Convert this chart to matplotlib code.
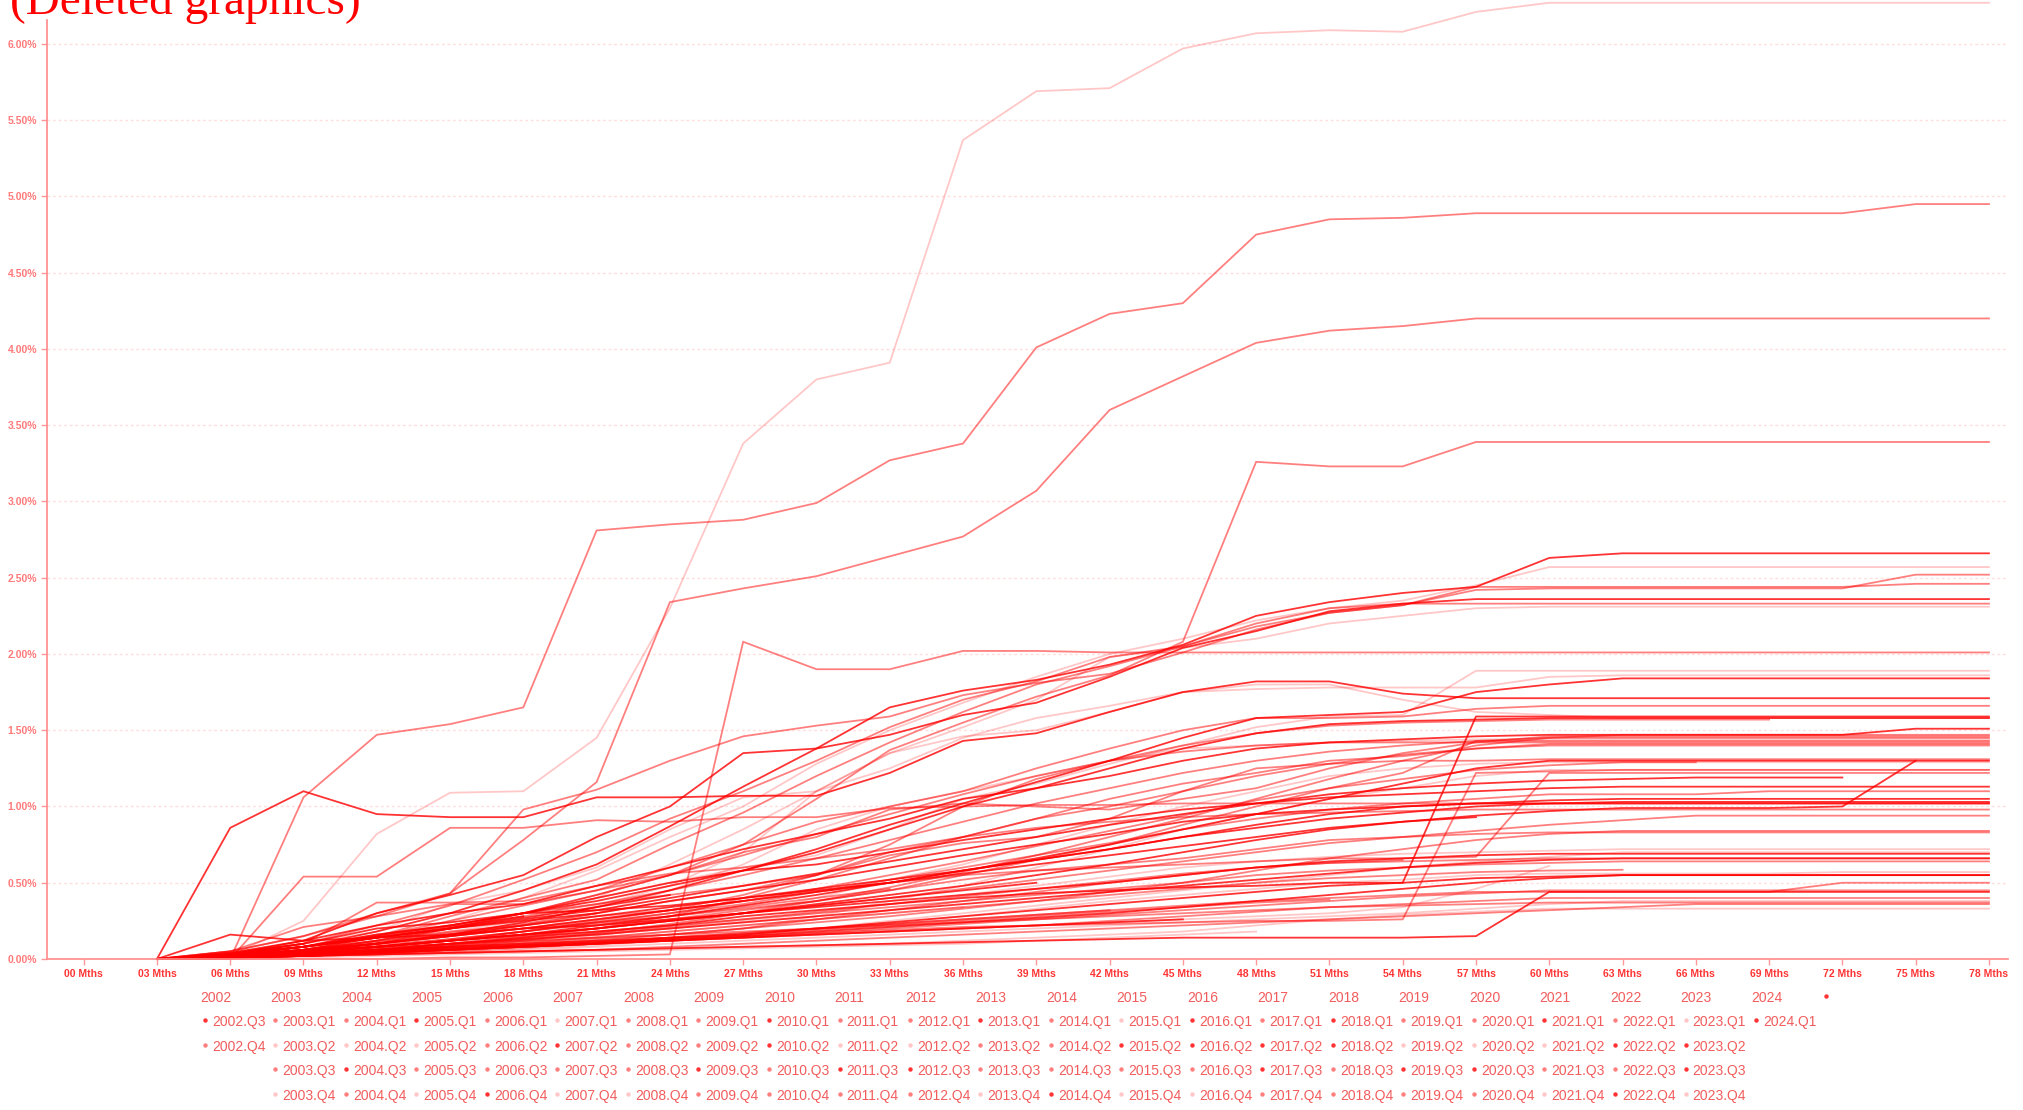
import matplotlib
matplotlib.use("Agg")
import matplotlib.pyplot as plt
from matplotlib import font_manager

# month-on-book categories (x axis)
months = ["00 Mths", "03 Mths", "06 Mths", "09 Mths", "12 Mths", "15 Mths", "18 Mths",
          "21 Mths", "24 Mths", "27 Mths", "30 Mths", "33 Mths", "36 Mths", "39 Mths",
          "42 Mths", "45 Mths", "48 Mths", "51 Mths", "54 Mths", "57 Mths", "60 Mths",
          "63 Mths", "66 Mths", "69 Mths", "72 Mths", "75 Mths", "78 Mths"]

years = [2002, 2003, 2004, 2005, 2006, 2007, 2008, 2009, 2010, 2011, 2012, 2013,
         2014, 2015, 2016, 2017, 2018, 2019, 2020, 2021, 2022, 2023, 2024]

# cumulative loss (%) per vintage, values from 03 Mths onwards
loss_2002 = [
    [0, 0.86, 1.10, 0.95, 0.93, 0.93, 1.06, 1.06, 1.07, 1.07, 1.22, 1.43, 1.48, 1.62, 1.75, 1.82, 1.82, 1.74, 1.71, 1.71, 1.71, 1.71, 1.71, 1.71, 1.71, 1.71],
    [0, 0, 0.54, 0.54, 0.86, 0.86, 0.91, 0.90, 0.93, 0.93, 0.99, 1.00, 1.01, 1.01, 1.02, 1.02, 1.02, 1.02, 1.02, 1.02, 1.02, 1.02, 1.02, 1.02, 1.02, 1.02],
]
loss_2003 = [
    [0, 0.05, 0.21, 0.28, 0.43, 0.98, 1.11, 1.30, 1.46, 1.53, 1.59, 1.73, 1.81, 1.87, 2.01, 2.16, 2.27, 2.32, 2.44, 2.44, 2.44, 2.44, 2.44, 2.44, 2.46, 2.46],
    [0, 0.02, 0.25, 0.82, 1.09, 1.10, 1.45, 2.30, 3.38, 3.80, 3.91, 5.37, 5.69, 5.71, 5.97, 6.07, 6.09, 6.08, 6.21, 6.27, 6.27, 6.27, 6.27, 6.27, 6.27, 6.27],
    [0, 0, 1.06, 1.47, 1.54, 1.65, 2.81, 2.85, 2.88, 2.99, 3.27, 3.38, 4.01, 4.23, 4.30, 4.75, 4.85, 4.86, 4.89, 4.89, 4.89, 4.89, 4.89, 4.89, 4.95, 4.95],
    [0, 0.02, 0.05, 0.12, 0.20, 0.30, 0.40, 0.50, 0.60, 0.68, 0.85, 1.05, 1.15, 1.28, 1.40, 1.52, 1.59, 1.60, 1.89, 1.89, 1.89, 1.89, 1.89, 1.89, 1.89, 1.89],
]
loss_2004 = [
    [0, 0.05, 0.15, 0.30, 0.43, 0.78, 1.16, 2.34, 2.43, 2.51, 2.64, 2.77, 3.07, 3.60, 3.82, 4.04, 4.12, 4.15, 4.20, 4.20, 4.20, 4.20, 4.20, 4.20, 4.20, 4.20],
    [0, 0.03, 0.10, 0.18, 0.36, 0.45, 0.60, 0.85, 1.06, 1.10, 1.35, 1.46, 1.50, 1.62, 1.75, 1.77, 1.78, 1.78, 1.78, 1.85, 1.86, 1.86, 1.86, 1.86, 1.86, 1.86],
    [0, 0.02, 0.08, 0.18, 0.30, 0.45, 0.62, 0.87, 1.13, 1.38, 1.65, 1.76, 1.83, 1.93, 2.06, 2.25, 2.34, 2.40, 2.44, 2.63, 2.66, 2.66, 2.66, 2.66, 2.66, 2.66],
    [0, 0.03, 0.10, 0.22, 0.35, 0.52, 0.70, 0.92, 1.10, 1.30, 1.52, 1.70, 1.82, 1.98, 2.05, 2.18, 2.27, 2.32, 2.42, 2.43, 2.43, 2.43, 2.43, 2.43, 2.52, 2.52],
]
loss_2005 = [
    [0, 0.04, 0.12, 0.30, 0.42, 0.55, 0.80, 1.00, 1.35, 1.38, 1.47, 1.60, 1.68, 1.85, 2.04, 2.15, 2.28, 2.33, 2.36, 2.36, 2.36, 2.36, 2.36, 2.36, 2.36, 2.36],
    [0, 0.01, 0.05, 0.12, 0.25, 0.40, 0.58, 0.80, 1.00, 1.28, 1.50, 1.68, 1.85, 2.00, 2.10, 2.22, 2.30, 2.35, 2.45, 2.57, 2.57, 2.57, 2.57, 2.57, 2.57, 2.57],
    [0, 0.02, 0.06, 0.15, 0.28, 0.40, 0.52, 0.75, 0.96, 1.20, 1.42, 1.62, 1.80, 1.92, 2.05, 2.20, 2.30, 2.33, 2.33, 2.33, 2.33, 2.33, 2.33, 2.33, 2.33, 2.33],
    [0, 0.01, 0.03, 0.08, 0.15, 0.22, 0.35, 0.48, 0.70, 1.10, 1.35, 1.52, 1.70, 1.98, 2.04, 2.10, 2.20, 2.25, 2.30, 2.31, 2.31, 2.31, 2.31, 2.31, 2.31, 2.31],
]
loss_2006 = [
    [0, 0.02, 0.05, 0.10, 0.20, 0.30, 0.42, 0.55, 0.75, 1.05, 1.37, 1.55, 1.72, 1.86, 2.08, 3.26, 3.23, 3.23, 3.39, 3.39, 3.39, 3.39, 3.39, 3.39, 3.39, 3.39],
    [0, 0, 0, 0, 0.01, 0.01, 0.02, 0.03, 2.08, 1.90, 1.90, 2.02, 2.02, 2.01, 2.01, 2.01, 2.01, 2.01, 2.01, 2.01, 2.01, 2.01, 2.01, 2.01, 2.01, 2.01],
    [0, 0.02, 0.08, 0.15, 0.25, 0.35, 0.45, 0.60, 0.75, 0.90, 1.00, 1.10, 1.25, 1.38, 1.50, 1.58, 1.58, 1.59, 1.64, 1.66, 1.66, 1.66, 1.66, 1.66, 1.66, 1.66],
    [0, 0.01, 0.03, 0.06, 0.10, 0.14, 0.18, 0.22, 0.28, 0.32, 0.36, 0.40, 0.43, 0.45, 0.47, 0.48, 0.50, 0.50, 1.59, 1.59, 1.59, 1.59, 1.59, 1.59, 1.59, 1.59],
]
loss_2007 = [
    [0, 0.02, 0.06, 0.10, 0.18, 0.25, 0.40, 0.62, 0.85, 1.10, 1.25, 1.45, 1.58, 1.66, 1.75, 1.80, 1.80, 1.70, 1.62, 1.60, 1.58, 1.58, 1.58, 1.58, 1.58, 1.58],
    [0, 0.03, 0.12, 0.22, 0.30, 0.36, 0.48, 0.60, 0.72, 0.82, 0.92, 1.05, 1.12, 1.20, 1.30, 1.38, 1.42, 1.44, 1.46, 1.47, 1.47, 1.47, 1.47, 1.47, 1.51, 1.51],
    [0, 0.05, 0.15, 0.28, 0.36, 0.36, 0.45, 0.55, 0.70, 0.80, 0.98, 1.02, 1.00, 0.98, 1.05, 1.12, 1.25, 1.35, 1.42, 1.46, 1.46, 1.46, 1.46, 1.46, 1.46, 1.46],
    [0, 0, 0.02, 0.05, 0.10, 0.18, 0.30, 0.45, 0.62, 0.85, 1.00, 1.10, 1.20, 1.30, 1.38, 1.40, 1.42, 1.43, 1.44, 1.44, 1.44, 1.44, 1.44, 1.44, 1.44, 1.44],
]
loss_2008 = [
    [0, 0.02, 0.04, 0.08, 0.12, 0.18, 0.25, 0.32, 0.42, 0.55, 0.75, 1.00, 1.18, 1.30, 1.36, 1.40, 1.42, 1.42, 1.42, 1.42, 1.42, 1.42, 1.42, 1.42, 1.42, 1.42],
    [0, 0.01, 0.03, 0.06, 0.09, 0.14, 0.20, 0.28, 0.40, 0.52, 0.66, 0.80, 0.92, 1.05, 1.15, 1.22, 1.30, 1.33, 1.38, 1.40, 1.40, 1.40, 1.40, 1.40, 1.40, 1.40],
    [0, 0.02, 0.05, 0.10, 0.15, 0.22, 0.30, 0.38, 0.45, 0.55, 0.68, 0.76, 0.80, 0.92, 1.10, 1.25, 1.28, 1.30, 1.30, 1.31, 1.31, 1.31, 1.31, 1.31, 1.31, 1.31],
    [0, 0.01, 0.02, 0.04, 0.07, 0.10, 0.15, 0.22, 0.30, 0.40, 0.52, 0.62, 0.75, 0.88, 1.00, 1.10, 1.20, 1.25, 1.28, 1.29, 1.29, 1.29, 1.29, 1.29, 1.29, 1.29],
]
loss_2009 = [
    [0, 0.01, 0.02, 0.04, 0.06, 0.08, 0.10, 0.12, 0.15, 0.17, 0.19, 0.21, 0.22, 0.23, 0.24, 0.25, 0.25, 0.26, 1.22, 1.23, 1.24, 1.24, 1.24, 1.24, 1.24, 1.24],
    [0, 0.02, 0.06, 0.12, 0.18, 0.22, 0.28, 0.32, 0.38, 0.44, 0.50, 0.55, 0.58, 0.60, 0.62, 0.64, 0.66, 0.66, 0.67, 1.22, 1.22, 1.22, 1.22, 1.22, 1.22, 1.22],
    [0, 0.03, 0.08, 0.16, 0.22, 0.30, 0.40, 0.50, 0.58, 0.62, 0.70, 0.78, 0.85, 0.92, 0.98, 1.02, 1.06, 1.08, 1.10, 1.12, 1.13, 1.13, 1.13, 1.13, 1.13, 1.13],
    [0, 0.01, 0.04, 0.08, 0.12, 0.18, 0.24, 0.30, 0.36, 0.44, 0.52, 0.60, 0.68, 0.76, 0.85, 0.92, 0.98, 1.02, 1.05, 1.08, 1.08, 1.08, 1.10, 1.10, 1.10, 1.10],
]
loss_2010 = [
    [0, 0.03, 0.10, 0.20, 0.24, 0.30, 0.32, 0.35, 0.40, 0.45, 0.50, 0.58, 0.65, 0.72, 0.80, 0.88, 0.95, 1.00, 1.02, 1.04, 1.05, 1.05, 1.05, 1.05, 1.05, 1.05],
    [0, 0.02, 0.06, 0.14, 0.20, 0.25, 0.30, 0.38, 0.45, 0.52, 0.60, 0.68, 0.75, 0.82, 0.90, 0.95, 0.98, 1.00, 1.02, 1.02, 1.02, 1.02, 1.02, 1.02, 1.02, 1.02],
    [0, 0.02, 0.08, 0.16, 0.22, 0.30, 0.36, 0.42, 0.48, 0.55, 0.70, 0.80, 0.86, 0.90, 0.93, 0.95, 0.96, 0.97, 0.98, 0.98, 0.98, 0.98, 0.98, 0.98, 0.98, 0.98],
    [0, 0.01, 0.04, 0.08, 0.12, 0.16, 0.20, 0.25, 0.30, 0.35, 0.40, 0.46, 0.52, 0.58, 0.64, 0.70, 0.76, 0.80, 0.84, 0.88, 0.91, 0.94, 0.94, 0.94, 0.94, 0.94],
]
loss_2011 = [
    [0, 0.02, 0.05, 0.10, 0.15, 0.20, 0.24, 0.28, 0.33, 0.38, 0.45, 0.52, 0.58, 0.62, 0.66, 0.72, 0.78, 0.80, 0.82, 0.83, 0.83, 0.83, 0.83, 0.83, 0.83, 0.83],
    [0, 0.01, 0.03, 0.06, 0.09, 0.12, 0.16, 0.20, 0.25, 0.30, 0.36, 0.42, 0.48, 0.54, 0.60, 0.64, 0.67, 0.69, 0.70, 0.71, 0.72, 0.72, 0.72, 0.72, 0.72, 0.72],
    [0, 0.16, 0.12, 0.14, 0.16, 0.20, 0.22, 0.26, 0.30, 0.34, 0.38, 0.42, 0.46, 0.50, 0.55, 0.60, 0.64, 0.66, 0.68, 0.69, 0.69, 0.69, 0.69, 0.69, 0.69, 0.69],
    [0, 0.01, 0.02, 0.04, 0.06, 0.09, 0.12, 0.16, 0.20, 0.26, 0.32, 0.38, 0.44, 0.50, 0.55, 0.60, 0.63, 0.64, 0.65, 0.66, 0.66, 0.66, 0.66, 0.66, 0.66, 0.66],
]
loss_2012 = [
    [0, 0.02, 0.05, 0.08, 0.12, 0.15, 0.18, 0.22, 0.26, 0.30, 0.34, 0.38, 0.42, 0.46, 0.50, 0.55, 0.58, 0.60, 0.62, 0.63, 0.64, 0.64, 0.64, 0.64, 0.64, 0.64],
    [0, 0.01, 0.02, 0.04, 0.05, 0.07, 0.09, 0.12, 0.15, 0.19, 0.23, 0.28, 0.33, 0.38, 0.42, 0.46, 0.50, 0.52, 0.55, 0.56, 0.56, 0.56, 0.56, 0.57, 0.57, 0.57],
    [0, 0.02, 0.04, 0.06, 0.08, 0.10, 0.12, 0.14, 0.16, 0.20, 0.24, 0.28, 0.32, 0.36, 0.40, 0.44, 0.48, 0.50, 0.53, 0.54, 0.55, 0.55, 0.55, 0.55, 0.55, 0.55],
    [0, 0.01, 0.03, 0.05, 0.07, 0.09, 0.11, 0.14, 0.17, 0.20, 0.23, 0.26, 0.29, 0.32, 0.35, 0.38, 0.40, 0.42, 0.44, 0.44, 0.44, 0.44, 0.44, 0.50, 0.50, 0.50],
]
loss_2013 = [
    [0, 0.01, 0.02, 0.03, 0.04, 0.05, 0.06, 0.07, 0.08, 0.09, 0.10, 0.11, 0.12, 0.13, 0.14, 0.14, 0.14, 0.14, 0.15, 0.44, 0.44, 0.44, 0.44, 0.44, 0.44, 0.44],
    [0, 0.01, 0.02, 0.04, 0.06, 0.08, 0.10, 0.12, 0.14, 0.16, 0.18, 0.20, 0.22, 0.25, 0.28, 0.31, 0.34, 0.36, 0.38, 0.40, 0.40, 0.40, 0.40, 0.40, 0.40, 0.40],
    [0, 0.02, 0.05, 0.08, 0.10, 0.12, 0.14, 0.16, 0.18, 0.20, 0.22, 0.24, 0.26, 0.28, 0.30, 0.32, 0.34, 0.35, 0.36, 0.37, 0.37, 0.37, 0.37, 0.37, 0.37, 0.37],
    [0, 0.01, 0.02, 0.03, 0.04, 0.05, 0.06, 0.07, 0.08, 0.09, 0.10, 0.12, 0.14, 0.16, 0.18, 0.22, 0.26, 0.29, 0.31, 0.33, 0.33, 0.33, 0.33, 0.33, 0.33, 0.33],
]
loss_2014 = [
    [0, 0.02, 0.06, 0.12, 0.20, 0.28, 0.36, 0.45, 0.55, 0.66, 0.78, 0.90, 1.02, 1.12, 1.22, 1.30, 1.36, 1.40, 1.43, 1.45, 1.45, 1.45, 1.45, 1.45, 1.45, 1.45],
    [0, 0.01, 0.03, 0.06, 0.10, 0.15, 0.20, 0.26, 0.32, 0.38, 0.45, 0.55, 0.65, 0.75, 0.88, 1.00, 1.12, 1.22, 1.43, 1.43, 1.43, 1.43, 1.43, 1.43, 1.43, 1.43],
    [0, 0.03, 0.10, 0.37, 0.37, 0.38, 0.48, 0.56, 0.60, 0.66, 0.72, 0.80, 0.92, 1.00, 1.10, 1.20, 1.28, 1.34, 1.38, 1.41, 1.41, 1.41, 1.41, 1.41, 1.41, 1.41],
    [0, 0.02, 0.04, 0.08, 0.12, 0.16, 0.22, 0.28, 0.35, 0.42, 0.50, 0.58, 0.66, 0.75, 0.85, 0.95, 1.05, 1.15, 1.25, 1.30, 1.30, 1.30, 1.30, 1.30, 1.30, 1.30],
]
loss_2015 = [
    [0, 0.01, 0.02, 0.03, 0.05, 0.07, 0.10, 0.14, 0.20, 0.28, 0.38, 0.48, 0.60, 0.72, 0.85, 0.95, 1.05, 1.12, 1.20, 1.24, 1.24, 1.24, 1.24, 1.24, 1.24, 1.24],
    [0, 0.02, 0.05, 0.10, 0.16, 0.22, 0.28, 0.34, 0.40, 0.46, 0.52, 0.58, 0.65, 0.72, 0.80, 0.86, 0.92, 0.96, 1.00, 1.02, 1.03, 1.03, 1.03, 1.03, 1.03, 1.03],
    [0, 0.01, 0.03, 0.06, 0.08, 0.10, 0.13, 0.16, 0.20, 0.24, 0.28, 0.33, 0.38, 0.44, 0.50, 0.58, 0.66, 0.72, 0.78, 0.82, 0.84, 0.84, 0.84, 0.84, 0.84, 0.84],
    [0, 0.01, 0.02, 0.04, 0.06, 0.08, 0.10, 0.13, 0.16, 0.20, 0.25, 0.30, 0.35, 0.40, 0.45, 0.50, 0.55, 0.60, 0.64, 0.67, 0.70, 0.70, 0.70, 0.70, 0.70, 0.70],
]
loss_2016 = [
    [0, 0.02, 0.04, 0.07, 0.10, 0.13, 0.16, 0.20, 0.24, 0.28, 0.32, 0.36, 0.40, 0.44, 0.48, 0.52, 0.56, 0.60, 0.63, 0.65, 0.66, 0.66, 0.66, 0.66, 0.66, 0.66],
    [0, 0.01, 0.03, 0.05, 0.07, 0.09, 0.11, 0.13, 0.15, 0.18, 0.21, 0.24, 0.27, 0.30, 0.34, 0.38, 0.42, 0.46, 0.50, 0.53, 0.55, 0.55, 0.55, 0.55, 0.55, 0.55],
    [0, 0.01, 0.02, 0.04, 0.06, 0.08, 0.10, 0.12, 0.14, 0.17, 0.20, 0.23, 0.26, 0.29, 0.32, 0.35, 0.38, 0.41, 0.43, 0.45, 0.45, 0.45, 0.45, 0.45, 0.45, 0.45],
    [0, 0.01, 0.02, 0.03, 0.05, 0.06, 0.08, 0.10, 0.12, 0.14, 0.16, 0.18, 0.20, 0.22, 0.24, 0.26, 0.28, 0.30, 0.33, 0.36, 0.38, 0.38, 0.38, 0.38, 0.38, 0.38],
]
loss_2017 = [
    [0, 0.01, 0.02, 0.03, 0.04, 0.05, 0.06, 0.08, 0.10, 0.12, 0.14, 0.16, 0.18, 0.20, 0.22, 0.24, 0.26, 0.28, 0.30, 0.32, 0.34, 0.36, 0.36, 0.36, 0.36, 0.36],
    [0, 0.02, 0.05, 0.10, 0.16, 0.24, 0.34, 0.45, 0.58, 0.72, 0.88, 1.02, 1.16, 1.30, 1.45, 1.58, 1.60, 1.62, 1.75, 1.80, 1.84, 1.84, 1.84, 1.84, 1.84, 1.84],
    [0, 0.03, 0.08, 0.15, 0.22, 0.30, 0.38, 0.48, 0.58, 0.70, 0.85, 1.00, 1.12, 1.25, 1.38, 1.48, 1.54, 1.56, 1.57, 1.58, 1.58, 1.58, 1.58, 1.58, 1.58, 1.58],
    [0, 0.01, 0.03, 0.05, 0.08, 0.12, 0.17, 0.23, 0.30, 0.38, 0.47, 0.57, 0.68, 0.80, 0.92, 1.05, 1.18, 1.30, 1.40, 1.45, 1.47, 1.47, 1.47, 1.47, 1.47, 1.47],
]
loss_2018 = [
    [0, 0.02, 0.05, 0.08, 0.12, 0.16, 0.20, 0.25, 0.30, 0.36, 0.42, 0.48, 0.55, 0.62, 0.70, 0.78, 0.85, 0.90, 0.94, 0.97, 0.99, 0.99, 0.99, 1.00, 1.30],
    [0, 0.03, 0.08, 0.14, 0.20, 0.26, 0.32, 0.40, 0.48, 0.56, 0.64, 0.72, 0.80, 0.88, 0.95, 1.02, 1.08, 1.12, 1.15, 1.17, 1.18, 1.19, 1.19, 1.19],
    [0, 0.02, 0.06, 0.12, 0.20, 0.30, 0.42, 0.55, 0.68, 0.82, 0.95, 1.08, 1.20, 1.30, 1.40, 1.48, 1.53, 1.55, 1.56, 1.57, 1.57, 1.57, 1.57],
    [0, 0.01, 0.04, 0.08, 0.13, 0.18, 0.24, 0.30, 0.38, 0.46, 0.55, 0.64, 0.74, 0.84, 0.94, 1.04, 1.12, 1.18, 1.24, 1.27, 1.29, 1.29],
]
loss_2019 = [
    [0, 0.01, 0.03, 0.05, 0.08, 0.11, 0.14, 0.18, 0.22, 0.26, 0.30, 0.34, 0.38, 0.42, 0.46, 0.50, 0.53, 0.55, 0.57, 0.58, 0.585],
    [0, 0.01, 0.02, 0.04, 0.06, 0.08, 0.10, 0.12, 0.14, 0.16, 0.18, 0.20, 0.22, 0.24, 0.26, 0.28, 0.30, 0.34, 0.46, 0.61],
    [0, 0.02, 0.06, 0.10, 0.15, 0.20, 0.26, 0.32, 0.38, 0.44, 0.50, 0.56, 0.62, 0.68, 0.74, 0.80, 0.86, 0.90, 0.93],
    [0, 0.01, 0.03, 0.06, 0.09, 0.13, 0.17, 0.21, 0.26, 0.31, 0.36, 0.41, 0.46, 0.51, 0.56, 0.60, 0.63, 0.65],
]
loss_2020 = [
    [0, 0.01, 0.02, 0.04, 0.06, 0.08, 0.10, 0.13, 0.16, 0.19, 0.22, 0.25, 0.28, 0.31, 0.34, 0.37, 0.39],
    [0, 0.00, 0.01, 0.02, 0.03, 0.04, 0.05, 0.06, 0.07, 0.08, 0.09, 0.10, 0.12, 0.14, 0.16, 0.18],
    [0, 0.01, 0.02, 0.04, 0.06, 0.08, 0.10, 0.12, 0.14, 0.16, 0.18, 0.20, 0.22, 0.24, 0.26],
    [0, 0.01, 0.03, 0.05, 0.07, 0.09, 0.11, 0.14, 0.17, 0.20, 0.23, 0.26, 0.29, 0.32],
]
loss_2021 = [
    [0, 0.02, 0.05, 0.08, 0.12, 0.16, 0.20, 0.25, 0.30, 0.35, 0.40, 0.45, 0.50],
    [0, 0.01, 0.03, 0.05, 0.08, 0.11, 0.14, 0.18, 0.22, 0.26, 0.30, 0.34],
    [0, 0.02, 0.05, 0.09, 0.13, 0.18, 0.23, 0.28, 0.34, 0.40, 0.46],
    [0, 0.01, 0.03, 0.06, 0.09, 0.12, 0.16, 0.20, 0.24, 0.28],
]
loss_2022 = [
    [0, 0.02, 0.06, 0.10, 0.15, 0.20, 0.26, 0.32, 0.38],
    [0, 0.03, 0.08, 0.14, 0.20, 0.27, 0.34, 0.42],
    [0, 0.02, 0.06, 0.11, 0.17, 0.23, 0.30],
    [0, 0.03, 0.08, 0.14, 0.21, 0.28],
]
loss_2023 = [
    [0, 0.02, 0.06, 0.11, 0.17],
    [0, 0.03, 0.08, 0.14],
    [0, 0.04, 0.10],
    [0, 0.05],
]
loss_2024 = [
    [0],
]

# legend shade of each vintage (d = dark, m = medium, l = light)
shade_2002 = ["d", "m"]
shade_2003 = ["m", "l", "m", "l"]
shade_2004 = ["m", "l", "d", "m"]
shade_2005 = ["d", "l", "m", "l"]
shade_2006 = ["m", "m", "m", "d"]
shade_2007 = ["l", "d", "m", "l"]
shade_2008 = ["m", "m", "m", "l"]
shade_2009 = ["m", "m", "d", "m"]
shade_2010 = ["d", "d", "m", "m"]
shade_2011 = ["m", "l", "d", "m"]
shade_2012 = ["m", "l", "d", "m"]
shade_2013 = ["d", "m", "m", "l"]
shade_2014 = ["m", "m", "m", "d"]
shade_2015 = ["l", "d", "m", "l"]
shade_2016 = ["d", "d", "m", "l"]
shade_2017 = ["m", "d", "d", "m"]
shade_2018 = ["d", "d", "m", "m"]
shade_2019 = ["m", "l", "d", "m"]
shade_2020 = ["m", "l", "d", "m"]
shade_2021 = ["d", "l", "m", "l"]
shade_2022 = ["m", "d", "m", "d"]
shade_2023 = ["l", "d", "d", "l"]
shade_2024 = ["d"]

losses = [loss_2002, loss_2003, loss_2004, loss_2005, loss_2006, loss_2007, loss_2008,
          loss_2009, loss_2010, loss_2011, loss_2012, loss_2013, loss_2014, loss_2015,
          loss_2016, loss_2017, loss_2018, loss_2019, loss_2020, loss_2021, loss_2022,
          loss_2023, loss_2024]
shades = [shade_2002, shade_2003, shade_2004, shade_2005, shade_2006, shade_2007, shade_2008,
          shade_2009, shade_2010, shade_2011, shade_2012, shade_2013, shade_2014, shade_2015,
          shade_2016, shade_2017, shade_2018, shade_2019, shade_2020, shade_2021, shade_2022,
          shade_2023, shade_2024]

ALPHA = {"d": 0.8, "m": 0.5, "l": 0.22}
RED = "#ff0000"

names = set(f.name for f in font_manager.fontManager.ttflist)
narrow = "Liberation Sans Narrow" if "Liberation Sans Narrow" in names else "Liberation Sans"
legend_size = 12 if narrow == "Liberation Sans Narrow" else 10

W, H = 2024, 1110
fig = plt.figure(figsize=(W / 100, H / 100), dpi=100)
ax_left, ax_right, ax_bottom, ax_top = 47, 2008, 959, 20
ax = fig.add_axes([ax_left / W, 1 - ax_bottom / H, (ax_right - ax_left) / W, (ax_bottom - ax_top) / H])

for year, year_losses, year_shades in zip(years, losses, shades):
    for vals, sh in zip(year_losses, year_shades):
        xs = list(range(1, 1 + len(vals)))
        ax.plot(xs, vals, color=RED, alpha=ALPHA[sh], lw=1.3, clip_on=False, solid_joinstyle="miter")

ax.set_xlim(-0.5, 26.26)
ax.set_ylim(0, 6.157)
ax.set_xticks(range(len(months)))
ax.set_xticklabels(months, fontdict={"family": narrow, "weight": "bold", "size": 7.5}, color="#ff3333")
yt = [0, 0.5, 1.0, 1.5, 2.0, 2.5, 3.0, 3.5, 4.0, 4.5, 5.0, 5.5, 6.0]
ax.set_yticks(yt)
ax.set_yticklabels([f"{v:.2f}%" for v in yt], fontdict={"family": narrow, "weight": "bold", "size": 7.5}, color="#ff7a7a")
ax.tick_params(axis="x", length=4, width=1, color="#ff9999", pad=3)
ax.tick_params(axis="y", length=4, width=1, color="#ff9999", pad=3)
ax.yaxis.grid(True, color="#ffdede", lw=1, ls=(0, (2, 2)))
ax.set_axisbelow(True)
for side in ["top", "right"]:
    ax.spines[side].set_visible(False)
for side in ["left", "bottom"]:
    ax.spines[side].set_color("#ff8a8a")
    ax.spines[side].set_linewidth(1.2)

# title, partly cut off at the top edge
fig.text(10 / W, 1 - 14 / H, "(Deleted graphics)", color="#ff0000", fontsize=34,
         family="Liberation Serif", ha="left", va="baseline")

# legend grid
col0, col_w = 200, 70.5
row_y = [998, 1022, 1047, 1071, 1096]
text_color = "#f25c5c"
for c, year in enumerate(years):
    fig.text((col0 + c * col_w) / W, 1 - row_y[0] / H, str(year), color=text_color,
             fontsize=legend_size, family=narrow, ha="left", va="center")

def legend_item(col, row, label, sh):
    x = col0 + col * col_w
    y = 1 - row_y[row] / H
    fig.lines.append(matplotlib.lines.Line2D([(x + 5) / W], [y + 2 / H], transform=fig.transFigure,
                                             marker="o", ms=3.2, mec="none", mfc=RED, alpha=ALPHA[sh]))
    if label:
        fig.text((x + 12) / W, y, label, color=text_color, fontsize=legend_size,
                 family=narrow, ha="left", va="center")

for year, year_losses, year_shades in zip(years, losses, shades):
    first_q = 3 if year == 2002 else 1
    for i, sh in enumerate(year_shades):
        q = first_q + i
        label = f"{year}.Q{q}"
        if year == 2002:
            legend_item(0, i + 1, label, sh)
        else:
            legend_item(year - 2002, q, label, sh)
legend_item(23, 0, "", "d")

fig.savefig("out.png", dpi=100)
